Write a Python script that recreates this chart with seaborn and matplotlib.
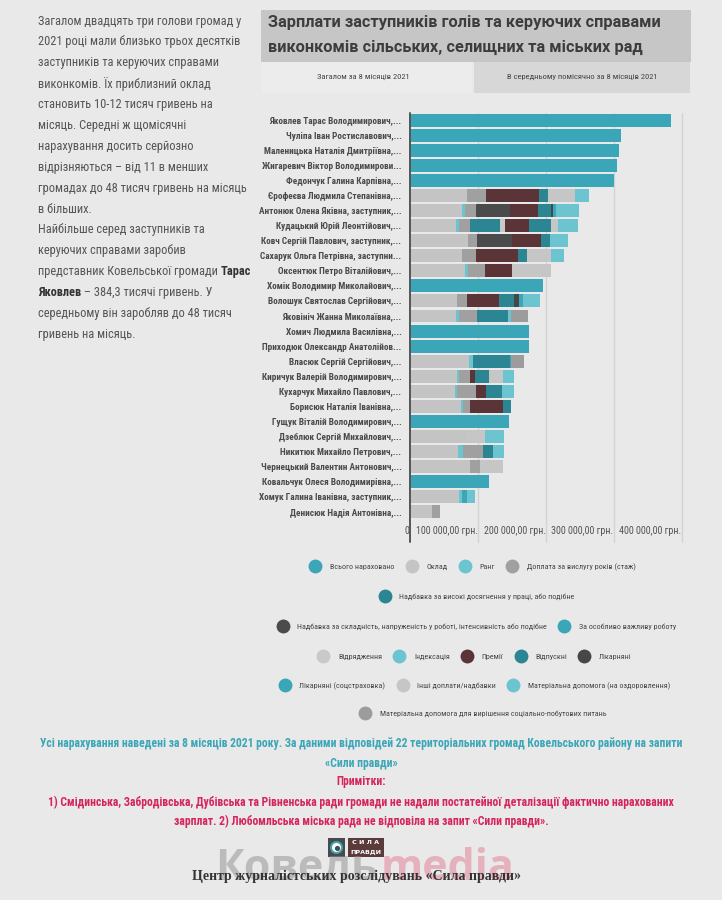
import pandas as pd
import matplotlib
matplotlib.use("Agg")
import matplotlib.pyplot as plt
import seaborn as sns
from matplotlib import font_manager
from matplotlib.lines import Line2D
from matplotlib.patches import Rectangle, Circle
from matplotlib.transforms import ScaledTranslation

# --- settings ---
sns.set_theme(style="white")

# pick a narrow face if one is installed, else fall back to Roboto
avail = {f.name for f in font_manager.fontManager.ttflist}
COND = next((f for f in ["Roboto Condensed", "Liberation Sans Narrow", "Open Sans Condensed",
                         "Noto Sans Condensed", "DejaVu Sans Condensed", "PT Sans Narrow"]
             if f in avail), "Roboto")
NARROW = [COND, "DejaVu Sans"]
plt.rcParams["font.family"] = NARROW

BG = "#e9e9e9"
TXT = "#555555"

# --- data (грн, загалом за 8 місяців 2021) ---
names = [
    "Яковлев Тарас Володимирович,...", "Чуліпа Іван Ростиславович,...",
    "Маленицька Наталія Дмитріївна,...", "Жигаревич Віктор Володимирови...",
    "Федончук Галина Карпівна,...", "Єрофеєва Людмила Степанівна,...",
    "Антонюк Олена Яківна, заступник,...", "Кудацький Юрій Леонтійович,...",
    "Ковч Сергій Павлович, заступник,...", "Сахарук Ольга Петрівна, заступни...",
    "Оксентюк Петро Віталійович,...", "Хомік Володимир Миколайович,...",
    "Волошук Святослав Сергійович,...", "Яковініч Жанна Миколаївна,...",
    "Хомич Людмила Василівна,...", "Приходюк Олександр Анатолійов...",
    "Власюк Сергій Сергійович,...", "Киричук Валерій Володимирович,...",
    "Кухарчук Михайло Павлович,...", "Борисюк Наталія Іванівна,...",
    "Гущук Віталій Володимирович,...", "Дзеблюк Сергій Михайлович,...",
    "Никитюк Михайло Петрович,...", "Чернецький Валентин Антонович,...",
    "Ковальчук Олеся Володимирівна,...", "Хомук Галина Іванівна, заступник,...",
    "Денисюк Надія Антонівна,...",
]

total = [384300, 311300, 308800, 304900, 300000, 0, 0, 0, 0, 0, 0, 196000, 0, 0,
         175000, 175000, 0, 0, 0, 0, 146000, 0, 0, 0, 117600, 0, 0]
oklad = [0, 0, 0, 0, 0, 84800, 77000, 68600, 85800, 77000, 81900, 0, 70100, 68600,
         0, 0, 86800, 69600, 67200, 75000, 0, 83300, 72000, 89700, 0, 72500, 32800]
rang = [0, 0, 0, 0, 0, 0, 4000, 4900, 0, 0, 3900, 0, 0, 3900,
        0, 0, 6400, 3900, 2900, 4400, 0, 0, 7400, 0, 0, 4400, 0]
stazh = [0, 0, 0, 0, 0, 27900, 17000, 15700, 13700, 21000, 25500, 0, 14200, 27000,
         0, 0, 0, 15700, 27000, 9800, 0, 0, 28400, 14700, 0, 0, 12300]
vysoki = [0, 0, 0, 0, 0, 0, 0, 44000, 0, 0, 0, 0, 0, 45000,
          0, 0, 0, 0, 0, 0, 0, 0, 0, 0, 0, 0, 0]
skladnist = [0, 0, 0, 0, 0, 0, 50500, 0, 51000, 0, 0, 0, 0, 0,
             0, 0, 0, 0, 0, 0, 0, 0, 0, 0, 0, 0, 0]
vazhlyva = [0, 0, 0, 0, 0, 0, 0, 0, 0, 0, 0, 0, 0, 0,
            0, 0, 0, 0, 0, 0, 0, 0, 0, 0, 0, 7800, 0]
vidryadzh = [0, 0, 0, 0, 0, 0, 0, 7800, 0, 0, 0, 0, 0, 0,
             0, 0, 0, 0, 0, 0, 0, 0, 0, 0, 0, 0, 0]
indeks = [0, 0, 0, 0, 0, 0, 0, 0, 0, 0, 0, 0, 0, 4900,
          0, 0, 0, 0, 0, 0, 0, 0, 0, 0, 0, 0, 0]
premii = [0, 0, 0, 0, 0, 78400, 40200, 35300, 42200, 61300, 39200, 0, 48000, 0,
          0, 0, 0, 6400, 15700, 49000, 0, 0, 0, 0, 0, 0, 0]
vidpuskni = [0, 0, 0, 0, 0, 12300, 19600, 31900, 14200, 13700, 0, 0, 21000, 0,
             0, 0, 53900, 22000, 23500, 11300, 0, 0, 14700, 0, 0, 0, 0]
likarn = [0, 0, 0, 0, 0, 0, 3400, 0, 0, 0, 0, 0, 7400, 0,
          0, 0, 0, 0, 0, 0, 0, 0, 0, 0, 0, 0, 0]
likarn_soc = [0, 0, 0, 0, 0, 0, 4000, 0, 0, 0, 0, 0, 6000, 0,
              0, 0, 2500, 0, 0, 0, 0, 0, 0, 0, 0, 0, 0]
inshi = [0, 0, 0, 0, 0, 40200, 0, 10800, 0, 35300, 57800, 0, 0, 0,
         0, 0, 0, 19600, 0, 0, 0, 27900, 0, 32800, 0, 0, 0]
matdop_ozd = [0, 0, 0, 0, 0, 21000, 33000, 28400, 26000, 19600, 0, 0, 25300, 0,
              0, 0, 0, 17200, 16700, 0, 0, 28400, 16200, 0, 0, 12300, 0]
matdop_soc = [0, 0, 0, 0, 0, 0, 0, 0, 0, 0, 0, 0, 0, 25500,
              0, 0, 18600, 0, 0, 0, 0, 0, 0, 0, 0, 0, 0]

series = [
    ("Всього нараховано", total, "#3aa6b8"),
    ("Оклад", oklad, "#c4c4c4"),
    ("Ранг", rang, "#6cc4d1"),
    ("Доплата за вислугу років (стаж)", stazh, "#a0a0a0"),
    ("Надбавка за високі досягнення у праці, або подібне", vysoki, "#2b8592"),
    ("Надбавка за складність, напруженість у роботі, інтенсивність або подібне", skladnist, "#4b4b4b"),
    ("За особливо важливу роботу", vazhlyva, "#3aa6b8"),
    ("Відрядження", vidryadzh, "#c9c9c9"),
    ("Індексація", indeks, "#6cc4d1"),
    ("Премії", premii, "#5a3437"),
    ("Відпускні", vidpuskni, "#2b8592"),
    ("Лікарняні", likarn, "#474747"),
    ("Лікарняні (соцстраховка)", likarn_soc, "#3aa6b8"),
    ("Інші доплати/надбавки", inshi, "#c6c6c6"),
    ("Матеріальна допомога (на оздоровлення)", matdop_ozd, "#6cc4d1"),
    ("Матеріальна допомога для вирішення соціально-побутових питань", matdop_soc, "#9c9c9c"),
]

df = pd.DataFrame({lab: vals for lab, vals, _ in series})
df["name"] = names
cols = [lab for lab, _, _ in series]
colors = {lab: c for lab, _, c in series}

# --- figure ---
fig = plt.figure(figsize=(7.22, 9.0), dpi=100, facecolor=BG)

# pixel-coordinate layer for boxes and texts
bg = fig.add_axes([0, 0, 1, 1], zorder=-1)
bg.set_xlim(0, 722)
bg.set_ylim(900, 0)
bg.axis("off")
bg.set_facecolor(BG)
rend = fig.canvas.get_renderer()


def fit(text, target, **kw):
    # font size that makes `text` about `target` pixels wide
    t = bg.text(0, 0, text, fontsize=10, **kw)
    w = t.get_window_extent(rend).width
    t.remove()
    return 10 * target / w


TITLE_FAM = ["Roboto", "DejaVu Sans"]
bg.add_patch(Rectangle((261, 10), 430, 52, color="#c6c6c6", lw=0))
bg.add_patch(Rectangle((262, 62), 210, 31, color="#ececec", lw=0))
bg.add_patch(Rectangle((474, 62), 216, 31, color="#d7d7d7", lw=0))
fs_title = fit("Зарплати заступників голів та керуючих справами", 396,
               fontweight="bold", family=TITLE_FAM)
bg.text(268, 23, "Зарплати заступників голів та керуючих справами", fontsize=fs_title,
        fontweight="bold", color="#3d3d3d", va="center", family=TITLE_FAM)
bg.text(268, 47, "виконкомів сільських, селищних та міських рад", fontsize=fs_title,
        fontweight="bold", color="#3d3d3d", va="center", family=TITLE_FAM)
fs_tab = fit("Загалом за 8 місяців 2021", 92)
bg.text(363, 77, "Загалом за 8 місяців 2021", fontsize=fs_tab, color="#444", ha="center", va="center")
bg.text(582, 77, "В середньому помісячно за 8 місяців 2021", fontsize=fs_tab, color="#444",
        ha="center", va="center")

# left column text
left_lines = [
    "Загалом двадцять три голови громад у",
    "2021 році мали близько трьох десятків",
    "заступників та керуючих справами",
    "виконкомів. Їх приблизний оклад",
    "становить 10-12 тисяч гривень на",
    "місяць. Середні ж щомісячні",
    "нарахування досить серйозно",
    "відрізняються – від 11 в менших",
    "громадах до 48 тисяч гривень на місяць",
    "в більших.",
    "Найбільше серед заступників та",
    "керуючих справами заробив",
    None,
    None,
    "середньому він заробляв до 48 тисяч",
    "гривень на місяць.",
]
fs_left = fit(left_lines[0], 204)
y0, dy = 21, 20.9
for i, line in enumerate(left_lines):
    if line:
        bg.text(38, y0 + i * dy, line, fontsize=fs_left, color=TXT, va="center")


def run_line(y, parts):
    x = 38
    for s, w in parts:
        t = bg.text(x, y, s, fontsize=fs_left, color=TXT if w == "normal" else "#333",
                    fontweight=w, va="center")
        x += t.get_window_extent(rend).width


run_line(y0 + 12 * dy, [("представник Ковельської громади ", "normal"), ("Тарас", "bold")])
run_line(y0 + 13 * dy, [("Яковлев", "bold"), (" – 384,3 тисячі гривень. У", "normal")])

# --- chart ---
ax = fig.add_axes([409.5 / 722, 1 - 519.5 / 900, 280.5 / 722, 407 / 900])
ax.set_facecolor("none")
for xv in [100000, 200000, 300000, 400000]:
    ax.plot([xv, xv], [-0.055, 1], transform=ax.get_xaxis_transform(), color="#d3d3d3",
            lw=1, clip_on=False, zorder=0)

# stacked bars: draw cumulative sums from longest to shortest
for k in range(len(cols) - 1, -1, -1):
    cum = df[cols[:k + 1]].sum(axis=1)
    sns.barplot(x=cum, y=df["name"], orient="h", color=colors[cols[k]], saturation=1,
                width=0.86, errorbar=None, linewidth=0, ax=ax, zorder=2)

ax.plot([0, 0], [-0.055, 1], transform=ax.get_xaxis_transform(), color="#555555",
        lw=1.4, clip_on=False, zorder=5)
ax.set_xlim(0, 412500)
ax.set_ylim(len(names) - 0.5, -0.5)
ax.set_xlabel("")
ax.set_ylabel("")
sns.despine(ax=ax, left=True, bottom=True)

fs_x = fit("100 000,00 грн.", 61.7)
fs_y = fit(names[0], 131.7, fontweight="bold")
ax.set_xticks([0, 100000, 200000, 300000, 400000])
ax.set_xticklabels(["0", "100 000,00 грн.", "200 000,00 грн.", "300 000,00 грн.",
                    "400 000,00 грн."], ha="right")
for lab in ax.get_xticklabels():
    lab.set_transform(lab.get_transform() + ScaledTranslation(-4 / 72, 0, fig.dpi_scale_trans))
ax.tick_params(axis="x", length=0, pad=5, labelsize=fs_x, labelcolor=TXT)
ax.tick_params(axis="y", length=0, pad=5.8, labelsize=fs_y, labelcolor="#4a4a4a")
for lab in ax.get_yticklabels():
    lab.set_fontweight("bold")

# --- legend rows ---
fs_leg = fit("Всього нараховано", 64)
px = fs_leg * 100 / 72
legend_rows = [
    (567, [0, 1, 2, 3], 472),
    (597, [4], 476),
    (627, [5, 6], 476),
    (657, [7, 8, 9, 10, 11], 474),
    (686, [12, 13, 14], 474),
    (714, [15], 482),
]
for y, idx, xc in legend_rows:
    handles = [Line2D([], [], marker="o", ls="", markersize=10, markeredgewidth=0,
                      color=series[i][2]) for i in idx]
    labels = [series[i][0] for i in idx]
    leg = fig.legend(handles, labels, loc="center", bbox_to_anchor=(xc / 722, 1 - y / 900),
                     ncol=len(idx), frameon=False, fontsize=fs_leg, borderpad=0,
                     handlelength=14 / px, handletextpad=7.7 / px, columnspacing=10.3 / px)
    for t in leg.get_texts():
        t.set_color("#444444")

# --- footer ---
TEAL = "#3aa6b8"
PINK = "#d6245c"
foot1 = ("Усі нарахування наведені за 8 місяців 2021 року. За даними відповідей 22 "
         "територіальних громад Ковельського району на запити")
note1 = ("1) Смідинська, Забродівська, Дубівська та Рівненська ради громади не надали "
         "постатейної деталізації фактично нарахованих")
fs_foot = fit(foot1, 643, fontweight="bold")
bg.text(361, 743, foot1, fontsize=fs_foot, color=TEAL, fontweight="bold", ha="center", va="center")
bg.text(361, 763, "«Сили правди»", fontsize=fs_foot, color=TEAL, fontweight="bold",
        ha="center", va="center")
bg.text(361, 782, "Примітки:", fontsize=fs_foot, color=PINK, fontweight="bold",
        ha="center", va="center")
bg.text(361, 802, note1, fontsize=fs_foot, color=PINK, fontweight="bold", ha="center", va="center")
bg.text(361, 821, "зарплат. 2) Любомльська міська рада не відповіла на запит «Сили правди».",
        fontsize=fs_foot, color=PINK, fontweight="bold", ha="center", va="center")

# logo
bg.add_patch(Rectangle((328, 838), 17, 19, color="#4a4a4a", lw=0))
bg.add_patch(Circle((336.5, 847.5), 6.5, color=TEAL, lw=0))
bg.add_patch(Circle((336.5, 847.5), 4.5, color="white", lw=0))
bg.add_patch(Circle((337.5, 848.5), 2.6, color="#4a4a4a", lw=0))
bg.add_patch(Rectangle((348, 838), 36, 19, color="#5b3a3b", lw=0))
bg.text(366, 842.5, "С И Л А", fontsize=4.6, color="white", fontweight="bold",
        ha="center", va="center", family=["DejaVu Sans"])
bg.text(366, 852.3, "ПРАВДИ", fontsize=4.6, color="white", fontweight="bold",
        ha="center", va="center", family=["DejaVu Sans"])

# watermark, then the caption above it
bg.text(296, 869, "Ковель", fontsize=31, color="#8f8f8f", alpha=0.5, fontweight="bold",
        ha="center", va="center", family=["Open Sans", "DejaVu Sans"])
bg.text(448, 869, "media", fontsize=31, color="#e07b92", alpha=0.5, fontweight="bold",
        ha="center", va="center", family=["Open Sans", "DejaVu Sans"])
SERIF = ["Liberation Serif", "DejaVu Serif"]
cap = "Центр журналістських розслідувань «Сила правди»"
fs_cap = fit(cap, 330, fontweight="bold", family=SERIF)
bg.text(356, 876, cap, fontsize=fs_cap, color="#333333", fontweight="bold",
        ha="center", va="center", family=SERIF)

fig.savefig("out.png", dpi=100, facecolor=BG)
